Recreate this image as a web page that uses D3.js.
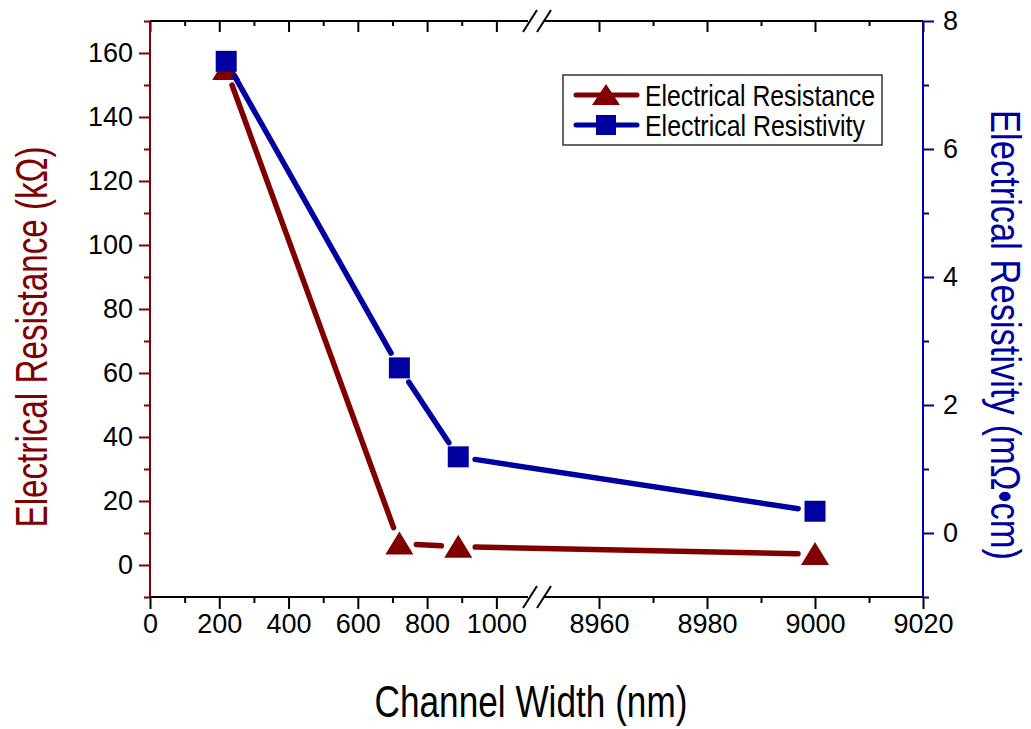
<!DOCTYPE html>
<html>
<head>
<meta charset="utf-8">
<script src="https://cdn.jsdelivr.net/npm/d3@7"></script>
<style>
  body { margin: 0; background: #fff; }
  text { font-family: "Liberation Sans", Arial, sans-serif; }
</style>
</head>
<body>
<script>
// channel width (nm) and the two measured series
var widths = [220, 720, 890, 9000];
var resistance = [155, 6.7, 5.7, 3.4];     // kOhm, left axis
var resistivity = [7.37, 2.58, 1.19, 0.34]; // mOhm*cm, right axis

// tick values
var xMajorA = [0, 200, 400, 600, 800, 1000];
var xMinorA = [100, 300, 500, 700, 900];
var xMajorB = [8960, 8980, 9000, 9020];
var xMinorB = [8970, 8990, 9010];
var yLeftMajor = [0, 20, 40, 60, 80, 100, 120, 140, 160];
var yLeftMinor = [-10, 10, 30, 50, 70, 90, 110, 130, 150, 170];
var yRightMajor = [0, 2, 4, 6, 8];
var yRightMinor = [-1, 1, 3, 5, 7];

var W = 1031, H = 729;
var pLeft = 150, pRight = 923, pTop = 21, pBottom = 597;
var breakA = 531, breakB = 545;
var red = '#800000', blue = '#0000a0';

var svg = d3.select('body').append('svg')
  .attr('width', W)
  .attr('height', H);

// broken x axis: two linear pieces
var x = d3.scaleLinear()
  .domain([0, 1100, 8950, 9020])
  .range([pLeft, breakA, breakB, pRight]);
var yL = d3.scaleLinear().domain([-10, 170]).range([pBottom, pTop]);
var yR = d3.scaleLinear().domain([-1, 8]).range([pBottom, pTop]);

function styleAxis(g, color) {
  g.select('.domain').remove();
  g.selectAll('.tick line').attr('stroke', color).attr('stroke-width', 2);
  g.selectAll('.tick text').attr('fill', '#000').style('font-size', '27px')
    .style('font-family', '"Liberation Sans", Arial, sans-serif');
}

// bottom axis ticks
svg.append('g').attr('transform', 'translate(0,' + pBottom + ')')
  .call(d3.axisBottom(x).tickValues(xMajorA.concat(xMajorB)).tickSize(12).tickPadding(5).tickFormat(d3.format('d')))
  .call(styleAxis, '#000');
svg.append('g').attr('transform', 'translate(0,' + pBottom + ')')
  .call(d3.axisBottom(x).tickValues(xMinorA.concat(xMinorB)).tickSize(6).tickFormat(''))
  .call(styleAxis, '#000');

// top axis, ticks inward
svg.append('g').attr('transform', 'translate(0,' + pTop + ')')
  .call(d3.axisBottom(x).tickValues(xMajorA.concat(xMajorB)).tickSize(11).tickFormat(''))
  .call(styleAxis, '#000');
svg.append('g').attr('transform', 'translate(0,' + pTop + ')')
  .call(d3.axisBottom(x).tickValues(xMinorA.concat(xMinorB)).tickSize(5).tickFormat(''))
  .call(styleAxis, '#000');

// horizontal axis lines with the break gap
[pTop, pBottom].forEach(function(yy) {
  svg.append('line').attr('x1', pLeft).attr('x2', breakA - 3).attr('y1', yy).attr('y2', yy)
    .attr('stroke', '#000').attr('stroke-width', 2);
  svg.append('line').attr('x1', breakB - 2).attr('x2', pRight).attr('y1', yy).attr('y2', yy)
    .attr('stroke', '#000').attr('stroke-width', 2);
  [breakA - 1, breakB - 1].forEach(function(cx) {
    svg.append('line')
      .attr('x1', cx - 7).attr('y1', yy + 11)
      .attr('x2', cx + 7).attr('y2', yy - 11)
      .attr('stroke', '#000').attr('stroke-width', 2);
  });
});

// left axis
svg.append('g').attr('transform', 'translate(' + pLeft + ',0)')
  .call(d3.axisLeft(yL).tickValues(yLeftMajor).tickSize(11).tickPadding(6))
  .call(styleAxis, red);
svg.append('g').attr('transform', 'translate(' + pLeft + ',0)')
  .call(d3.axisLeft(yL).tickValues(yLeftMinor).tickSize(6).tickFormat(''))
  .call(styleAxis, red);
svg.append('line').attr('x1', pLeft).attr('x2', pLeft).attr('y1', pTop).attr('y2', pBottom)
  .attr('stroke', red).attr('stroke-width', 2);

// right axis
svg.append('g').attr('transform', 'translate(' + pRight + ',0)')
  .call(d3.axisRight(yR).tickValues(yRightMajor).tickSize(11).tickPadding(9))
  .call(styleAxis, blue);
svg.append('g').attr('transform', 'translate(' + pRight + ',0)')
  .call(d3.axisRight(yR).tickValues(yRightMinor).tickSize(6).tickFormat(''))
  .call(styleAxis, blue);
svg.append('line').attr('x1', pRight).attr('x2', pRight).attr('y1', pTop).attr('y2', pBottom)
  .attr('stroke', blue).attr('stroke-width', 2);

// axis titles
svg.append('text')
  .attr('x', 531).attr('y', 717)
  .attr('text-anchor', 'middle')
  .attr('textLength', 313).attr('lengthAdjust', 'spacingAndGlyphs')
  .style('font-size', '44px').attr('fill', '#000')
  .text('Channel Width (nm)');

svg.append('text')
  .attr('transform', 'translate(47,337) rotate(-90)')
  .attr('text-anchor', 'middle')
  .attr('textLength', 381).attr('lengthAdjust', 'spacingAndGlyphs')
  .style('font-size', '44px').attr('fill', red)
  .text('Electrical Resistance (k\u03A9)');

svg.append('text')
  .attr('transform', 'translate(991,335) rotate(90)')
  .attr('text-anchor', 'middle')
  .attr('textLength', 450).attr('lengthAdjust', 'spacingAndGlyphs')
  .style('font-size', '42px').attr('fill', blue)
  .text('Electrical Resistivity  (m\u03A9\u2022cm)');

// markers
var triPath = 'M0,-12L14,11L-14,11Z';
var sqPath = 'M-10.5,-10.5H10.5V10.5H-10.5Z';

// lines with gaps round each marker, as the original plot has
function drawSeries(pts, color, marker) {
  var gap = 17;
  for (var i = 0; i < pts.length - 1; i++) {
    var a = pts[i], b = pts[i + 1];
    var dx = b[0] - a[0], dy = b[1] - a[1];
    var len = Math.sqrt(dx * dx + dy * dy);
    var ux = dx / len, uy = dy / len;
    svg.append('line')
      .attr('x1', a[0] + ux * gap).attr('y1', a[1] + uy * gap)
      .attr('x2', b[0] - ux * gap).attr('y2', b[1] - uy * gap)
      .attr('stroke', color).attr('stroke-width', 5.5)
      .attr('stroke-linecap', 'round');
  }
  svg.append('g').selectAll('path')
    .data(pts)
    .enter()
    .append('path')
    .attr('d', marker)
    .attr('transform', function(d) { return 'translate(' + d[0] + ',' + d[1] + ')'; })
    .attr('fill', color);
}

var resPts = widths.map(function(w, i) { return [x(w), yL(resistance[i])]; });
var rhoPts = widths.map(function(w, i) { return [x(w), yR(resistivity[i])]; });
drawSeries(resPts, red, triPath);
drawSeries(rhoPts, blue, sqPath);

// legend
var legend = svg.append('g');
legend.append('rect')
  .attr('x', 563).attr('y', 75).attr('width', 319).attr('height', 70)
  .attr('fill', '#fff').attr('stroke', '#333').attr('stroke-width', 1.5);
var legendItems = [
  { name: 'Electrical Resistance', color: red, marker: 'M0,-11L14,10L-14,10Z', y: 95, len: 230 },
  { name: 'Electrical Resistivity', color: blue, marker: 'M-10,-10H10V10H-10Z', y: 125, len: 220 }
];
legendItems.forEach(function(d) {
  legend.append('line')
    .attr('x1', 576).attr('x2', 637).attr('y1', d.y).attr('y2', d.y)
    .attr('stroke', d.color).attr('stroke-width', 5).attr('stroke-linecap', 'round');
  legend.append('path').attr('d', d.marker)
    .attr('transform', 'translate(606,' + d.y + ')').attr('fill', d.color);
  legend.append('text')
    .attr('x', 645).attr('y', d.y + 11)
    .attr('textLength', d.len).attr('lengthAdjust', 'spacingAndGlyphs')
    .style('font-size', '30px').attr('fill', '#000')
    .text(d.name);
});
</script>
</body>
</html>
